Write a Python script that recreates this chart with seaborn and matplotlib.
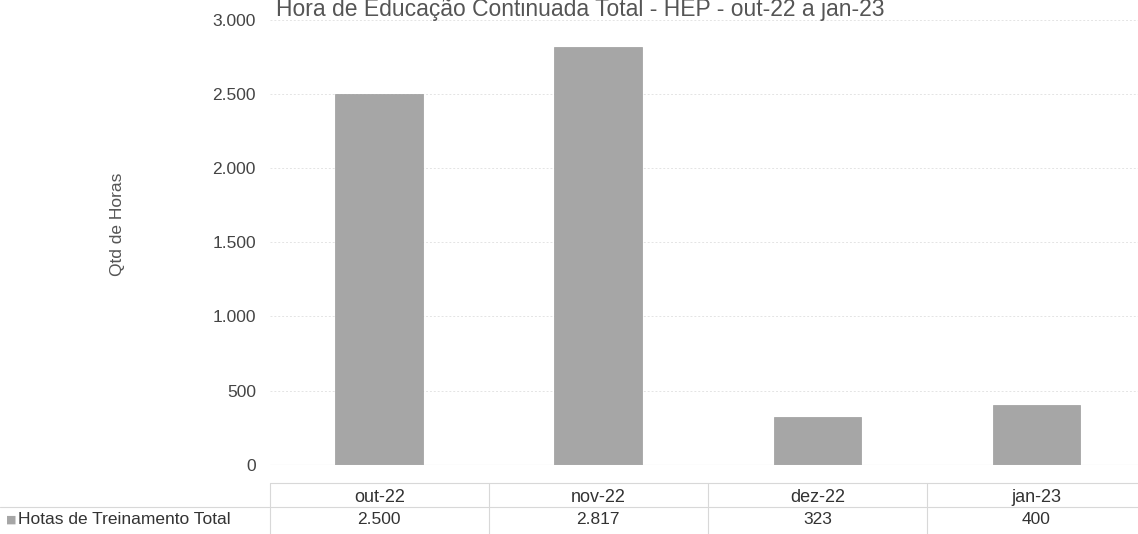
import matplotlib
matplotlib.use("Agg")
import matplotlib.pyplot as plt
import matplotlib.transforms as mtransforms
import seaborn as sns
import pandas as pd

# Data
meses = ["out-22", "nov-22", "dez-22", "jan-23"]
horas = [2500, 2817, 323, 400]
rotulos = ["2.500", "2.817", "323", "400"]
serie = "Hotas de Treinamento Total"

df = pd.DataFrame({"mes": meses, "horas": horas})

sns.set_style("white")
plt.rcParams["font.family"] = ["Liberation Sans", "DejaVu Sans"]

fig = plt.figure(figsize=(11.38, 5.34), dpi=100)
ax = fig.add_axes([0.237, 0.13, 0.77, 0.832])

sns.barplot(data=df, x="mes", y="horas", color="#a6a6a6", width=0.4,
            saturation=1, ax=ax, edgecolor="#9c9c9c", linewidth=0.5)

ax.set_ylim(0, 3000)
ax.set_xlim(-0.5, 3.5)
ax.set_yticks([0, 500, 1000, 1500, 2000, 2500, 3000])
ax.set_yticklabels(["0", "500", "1.000", "1.500", "2.000", "2.500", "3.000"],
                   fontsize=12.5, color="#444444")
ax.tick_params(axis="y", length=0, pad=10)
ax.set_xticks([])
ax.set_xlabel("")
ax.set_ylabel("Qtd de Horas", fontsize=12.5, color="#555555")
ax.yaxis.set_label_coords(-0.165, 0.54)
ax.yaxis.grid(True, color="#e4e4e4", linewidth=0.7, linestyle=(0, (2, 2)))
ax.set_axisbelow(True)
for s in ax.spines.values():
    s.set_visible(False)
ax.axhline(0, color="#d0d0d0", linewidth=0.8)

fig.text(0.51, 0.97, "Hora de Educação Continuada Total - HEP - out-22 a jan-23",
         ha="center", va="baseline", fontsize=16.5, color="#555555")

# data table below the chart
trans = mtransforms.blended_transform_factory(ax.transData, fig.transFigure)
for i, (m, r) in enumerate(zip(meses, rotulos)):
    ax.text(i, 0.068, m, transform=trans, ha="center", va="center",
            fontsize=13, color="#333333")
    ax.text(i, 0.027, r, transform=trans, ha="center", va="center",
            fontsize=12.5, color="#333333")
    ax.plot([i - 0.5, i - 0.5], [0.0, 0.095], transform=trans,
            color="#d8d8d8", linewidth=0.8, clip_on=False)
ax.plot([-0.5, 3.5], [0.095, 0.095], transform=trans, color="#d8d8d8",
        linewidth=0.8, clip_on=False)
fig.add_artist(plt.Line2D([0.0, 1.0], [0.05, 0.05], color="#d8d8d8", linewidth=0.8))
fig.text(0.005, 0.027, "\u25a0", ha="left", va="center", fontsize=8,
         color="#a6a6a6", family=["DejaVu Sans"])
fig.text(0.016, 0.027, serie, ha="left", va="center", fontsize=12.5,
         color="#333333")

fig.savefig("out.png", dpi=100)
